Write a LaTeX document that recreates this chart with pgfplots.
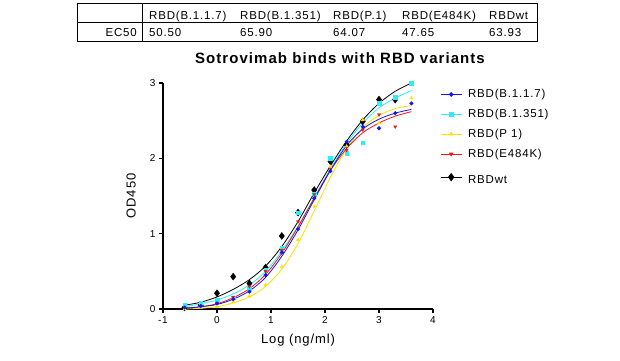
\documentclass[border=0pt]{standalone}
\usepackage{pgfplots}
\pgfplotsset{compat=1.18}
\usepackage{fontspec}
\setmainfont{Liberation Sans}[LetterSpace=7]
\definecolor{cB}{RGB}{20,20,240}
\definecolor{cC}{RGB}{40,240,250}
\definecolor{cY}{RGB}{250,225,0}
\definecolor{cR}{RGB}{240,20,20}
\begin{document}
\begin{tikzpicture}[x=1pt,y=1pt]
\path[use as bounding box] (0,0) rectangle (620,360);
% EC50 table
\draw[line width=0.8pt] (77,319) rectangle (537,357);
\draw[line width=0.8pt] (77,338) -- (537,338);
\draw[line width=0.8pt] (142,319) -- (142,357);
\begin{scope}[every node/.style={inner sep=0pt,font=\fontsize{11.5}{13}\selectfont}]
\node[anchor=base west] at (149,340.5) {RBD(B.1.1.7)};
\node[anchor=base west] at (240,340.5) {RBD(B.1.351)};
\node[anchor=base west] at (333,340.5) {RBD(P.1)};
\node[anchor=base west] at (402,340.5) {RBD(E484K)};
\node[anchor=base west] at (489,340.5) {RBDwt};
\node[anchor=base east] at (137,323.5) {EC50};
\node[anchor=base west] at (149,323.5) {50.50};
\node[anchor=base west] at (240,323.5) {65.90};
\node[anchor=base west] at (333,323.5) {64.07};
\node[anchor=base west] at (402,323.5) {47.65};
\node[anchor=base west] at (489,323.5) {63.93};
\end{scope}
\node[anchor=base,inner sep=0pt,font=\fontsize{15}{17}\bfseries] at (340,297) {Sotrovimab binds with RBD variants};
\begin{axis}[
  at={(163pt,51pt)}, anchor=south west,
  scale only axis, width=270pt, height=226pt,
  xmin=-1, xmax=4, ymin=0, ymax=3,
  xtick={-1,0,1,2,3,4}, ytick={0,1,2,3},
  axis lines=left, axis line style={-, line width=1.2pt},
  tick align=outside, major tick length=4pt,
  tick style={line width=1.2pt, black},
  every tick label/.append style={font=\fontsize{10}{12}\selectfont},
  /pgf/number format/assume math mode=true,
  xlabel={Log (ng/ml)}, ylabel={OD450},
  label style={font=\fontsize{13}{15}\selectfont},
  xlabel style={at={(axis description cs:0.5,-0.137)}, anchor=center},
  ylabel style={at={(axis description cs:-0.118,0.5)}, anchor=center},
  clip=false,
  legend style={at={(axis description cs:1.026,0.972)}, anchor=north west,
    draw=none, fill=none, inner sep=0pt, row sep=10pt,
    nodes={inner sep=0pt, font=\fontsize{11.5}{13}\selectfont},
    /tikz/every odd column/.append style={column sep=6pt}},
  legend cell align=left,
  legend image code/.code={\draw[mark repeat=2,mark phase=2] plot coordinates {(0pt,0pt)(10.5pt,0pt)(21pt,0pt)};},
]
\addlegendimage{cB, line width=0.9pt, mark=*, mark size=1.8pt}
\addlegendentry{RBD(B.1.1.7)}
\addlegendimage{cC, line width=0.9pt, mark=square*, mark size=1.8pt}
\addlegendentry{RBD(B.1.351)}
\addlegendimage{cY, line width=0.9pt, mark=triangle*, mark size=1.8pt}
\addlegendentry{RBD(P 1)}
\addlegendimage{cR, line width=0.9pt, mark=triangle*, mark options={rotate=180}, mark size=1.8pt}
\addlegendentry{RBD(E484K)}
\addlegendimage{black, line width=0.9pt, mark=diamond*, mark size=3.5pt}
\addlegendentry{\rule{0pt}{15pt}RBDwt}

% fitted curves
\addplot[black, line width=0.8pt, smooth, forget plot] coordinates {
(-0.6,0.05)(-0.3,0.09)(0,0.16)(0.3,0.26)(0.6,0.39)(0.9,0.57)(1.2,0.83)(1.5,1.16)(1.8,1.54)(2.1,1.90)(2.4,2.23)(2.7,2.51)(3.0,2.73)(3.3,2.89)(3.6,3.0)};
\addplot[cC, line width=0.8pt, smooth, forget plot] coordinates {
(-0.6,0.03)(-0.3,0.07)(0,0.12)(0.3,0.2)(0.6,0.32)(0.9,0.5)(1.2,0.77)(1.5,1.1)(1.8,1.48)(2.1,1.86)(2.4,2.2)(2.7,2.47)(3.0,2.67)(3.3,2.8)(3.6,2.9)};
\addplot[cY, line width=0.8pt, smooth, forget plot] coordinates {
(-0.6,0.0)(-0.3,0.01)(0,0.03)(0.3,0.08)(0.6,0.16)(0.9,0.3)(1.2,0.53)(1.5,0.87)(1.8,1.3)(2.1,1.75)(2.4,2.13)(2.7,2.41)(3.0,2.57)(3.3,2.66)(3.6,2.7)};
\addplot[cR, line width=0.8pt, smooth, forget plot] coordinates {
(-0.6,0.01)(-0.3,0.03)(0,0.07)(0.3,0.15)(0.6,0.27)(0.9,0.46)(1.2,0.74)(1.5,1.09)(1.8,1.47)(2.1,1.84)(2.4,2.13)(2.7,2.34)(3.0,2.47)(3.3,2.56)(3.6,2.62)};
\addplot[cB, line width=0.8pt, smooth, forget plot] coordinates {
(-0.6,0.01)(-0.3,0.03)(0,0.06)(0.3,0.13)(0.6,0.24)(0.9,0.42)(1.2,0.7)(1.5,1.05)(1.8,1.45)(2.1,1.84)(2.4,2.17)(2.7,2.39)(3.0,2.52)(3.3,2.6)(3.6,2.65)};

% data points
\addplot[only marks, mark=diamond*, mark size=3.5pt, black, forget plot] coordinates {
(-0.6,0.02)(-0.3,0.05)(0,0.21)(0.3,0.43)(0.6,0.34)(0.9,0.55)(1.2,0.97)(1.5,1.28)(1.8,1.58)(2.1,1.96)(2.4,2.18)(2.7,2.49)(3.0,2.78)(3.3,2.78)};
\addplot[only marks, mark=square*, mark size=1.8pt, cC, forget plot] coordinates {
(-0.6,0.05)(-0.3,0.075)(0,0.12)(0.3,0.15)(0.6,0.28)(0.9,0.52)(1.2,0.81)(1.5,1.28)(1.8,1.53)(2.1,2.0)(2.4,2.07)(2.7,2.21)(3.0,2.73)(3.3,2.81)(3.6,3.0)};
\addplot[only marks, mark=triangle*, mark size=1.8pt, mark options={rotate=180}, cR, forget plot] coordinates {
(-0.6,0.01)(-0.3,0.03)(0,0.08)(0.3,0.16)(0.6,0.30)(0.9,0.50)(1.2,0.78)(1.5,1.16)(1.8,1.52)(2.1,1.87)(2.4,2.11)(2.7,2.38)(3.0,2.58)(3.3,2.42)};
\addplot[only marks, mark=triangle*, mark size=1.8pt, cY, forget plot] coordinates {
(-0.6,0.0)(-0.3,0.02)(0,0.03)(0.3,0.09)(0.6,0.17)(0.9,0.32)(1.2,0.56)(1.5,0.92)(1.8,1.36)(2.1,1.89)(2.4,2.16)(2.7,2.51)(3.0,2.47)(3.6,2.80)};
\addplot[only marks, mark=*, mark size=1.8pt, cB, forget plot] coordinates {
(-0.6,0.02)(-0.3,0.04)(0,0.075)(0.3,0.13)(0.6,0.23)(0.9,0.45)(1.2,0.75)(1.5,1.06)(1.8,1.47)(2.1,1.83)(2.4,2.22)(2.7,2.42)(3.0,2.40)(3.3,2.60)(3.6,2.73)};
\end{axis}
\end{tikzpicture}
\end{document}
